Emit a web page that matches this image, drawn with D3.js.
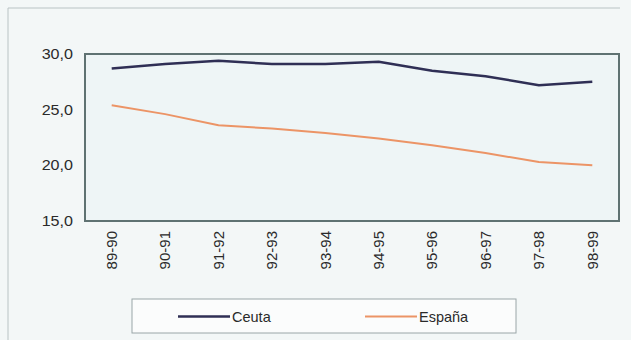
<!DOCTYPE html>
<html>
<head>
<meta charset="utf-8">
<script src="https://cdn.jsdelivr.net/npm/d3@7"></script>
<style>
  body { margin: 0; background: #f3f7f7; }
  svg { display: block; font-family: "Liberation Sans", Arial, sans-serif; }
</style>
</head>
<body>
<div id="chart"></div>
<script>
const years = ["89-90", "90-91", "91-92", "92-93", "93-94", "94-95", "95-96", "96-97", "97-98", "98-99"];
const ceuta = [28.7, 29.1, 29.4, 29.1, 29.1, 29.3, 28.5, 28.0, 27.2, 27.5];
const espana = [25.4, 24.6, 23.6, 23.3, 22.9, 22.4, 21.8, 21.1, 20.3, 20.0];
const yTicks = [15, 20, 25, 30];

const width = 631;
const height = 340;
const margin = { top: 54, right: 12, bottom: 119, left: 85 };

const svg = d3.select("#chart").append("svg")
  .attr("width", width)
  .attr("height", height);

// outer frame of the figure
svg.append("path")
  .attr("d", `M8,${height} V8 H620`)
  .attr("fill", "none")
  .attr("stroke", "#b9c3c4")
  .attr("stroke-width", 1);

const x = d3.scalePoint()
  .domain(years)
  .range([margin.left, width - margin.right])
  .padding(0.5);

const y = d3.scaleLinear()
  .domain([15, 30])
  .range([height - margin.bottom, margin.top]);

svg.append("rect")
  .attr("x", margin.left)
  .attr("y", margin.top)
  .attr("width", width - margin.left - margin.right)
  .attr("height", height - margin.top - margin.bottom)
  .attr("fill", "#eef5f6")
  .attr("stroke", "#5f7272")
  .attr("stroke-width", 2);

const fmt = d => d.toFixed(1).replace(".", ",");

// y labels look a bit stretched sideways in the scan
svg.append("g")
  .selectAll("text")
  .data(yTicks)
  .join("text")
  .attr("transform", d => `translate(${margin.left - 12},${y(d)}) scale(1.15,1)`)
  .attr("dy", "0.35em")
  .attr("text-anchor", "end")
  .attr("font-size", 14)
  .attr("fill", "#2a2a2a")
  .text(fmt);

svg.append("g")
  .selectAll("text")
  .data(years)
  .join("text")
  .attr("transform", d => `translate(${x(d)},${height - margin.bottom + 10}) rotate(-90)`)
  .attr("dy", "0.35em")
  .attr("text-anchor", "end")
  .attr("font-size", 15)
  .attr("fill", "#2a2a2a")
  .text(d => d);

const line = d3.line()
  .x((d, i) => x(years[i]))
  .y(d => y(d));

const series = [
  { name: "Ceuta", values: ceuta, color: "#2f2f55", w: 2.5 },
  { name: "España", values: espana, color: "#ec9466", w: 2 }
];

svg.append("g")
  .selectAll("path")
  .data(series)
  .join("path")
  .attr("d", d => line(d.values))
  .attr("fill", "none")
  .attr("stroke", d => d.color)
  .attr("stroke-width", d => d.w)
  .attr("stroke-linejoin", "round");

// legend
const legend = svg.append("g");
legend.append("rect")
  .attr("x", 132)
  .attr("y", 299)
  .attr("width", 384)
  .attr("height", 34)
  .attr("fill", "#fbfcfc")
  .attr("stroke", "#9aa6a8")
  .attr("stroke-width", 1);

const item = legend.selectAll("g")
  .data(series)
  .join("g")
  .attr("transform", (d, i) => `translate(${i ? 365 : 178},316.5)`);

item.append("line")
  .attr("x1", 0)
  .attr("x2", 52)
  .attr("stroke", d => d.color)
  .attr("stroke-width", d => d.w);

item.append("text")
  .attr("x", 54)
  .attr("dy", "0.35em")
  .attr("font-size", 14.5)
  .attr("fill", "#2a2a2a")
  .text(d => d.name);
</script>
</body>
</html>
